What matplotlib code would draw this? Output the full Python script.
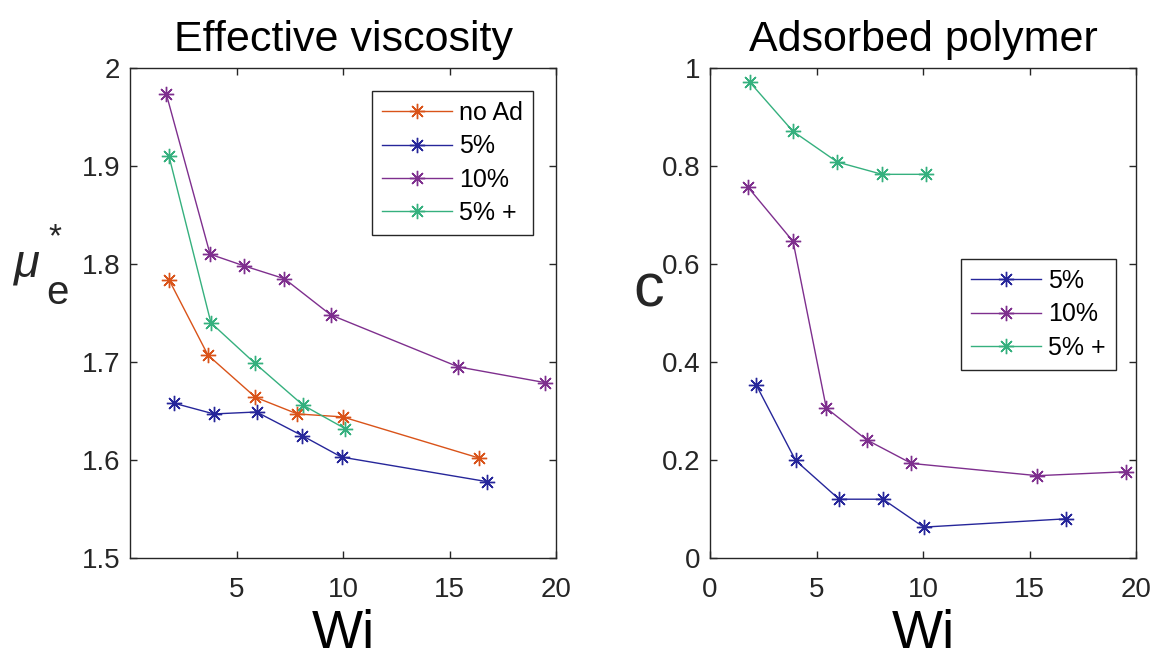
import numpy as np
import matplotlib
matplotlib.use("Agg")
import matplotlib.pyplot as plt

plt.rcParams['font.family'] = ['Liberation Sans', 'DejaVu Sans']
plt.rcParams['mathtext.fontset'] = 'custom'
plt.rcParams['mathtext.rm'] = 'Liberation Sans'
plt.rcParams['mathtext.it'] = 'Liberation Sans:italic'

# effective viscosity (left)
wi_noad = [1.83, 3.66, 5.89, 7.86, 9.98, 16.39]
mu_noad = [1.784, 1.707, 1.664, 1.647, 1.644, 1.602]
wi_5 = [2.06, 3.94, 5.94, 8.07, 9.93, 16.74]
mu_5 = [1.658, 1.647, 1.649, 1.625, 1.603, 1.578]
wi_10 = [1.71, 3.76, 5.37, 7.25, 9.43, 15.42, 19.48]
mu_10 = [1.973, 1.810, 1.798, 1.785, 1.748, 1.695, 1.679]
wi_5p = [1.83, 3.80, 5.85, 8.12, 10.1]
mu_5p = [1.910, 1.740, 1.699, 1.656, 1.632]

# adsorbed polymer (right)
wi_c5 = [2.16, 4.02, 6.06, 8.12, 10.03, 16.72]
c_5 = [0.354, 0.199, 0.120, 0.120, 0.063, 0.080]
wi_c10 = [1.78, 3.90, 5.46, 7.36, 9.46, 15.37, 19.52]
c_10 = [0.757, 0.646, 0.306, 0.241, 0.193, 0.168, 0.176]
wi_c5p = [1.87, 3.89, 5.98, 8.08, 10.12]
c_5p = [0.971, 0.871, 0.808, 0.783, 0.783]

orange = '#D95319'
blue = '#26269A'
purple = '#7E2F8E'
green = '#35B07E'
axcol = '#262626'

mk = dict(marker=(8, 2, 0), markersize=11, linewidth=1.0, markeredgewidth=1.0)

fig = plt.figure(figsize=(11.56, 6.62), dpi=100)
ax1 = fig.add_axes([130/1156, 104/662, 426/1156, 490/662])
ax2 = fig.add_axes([710/1156, 104/662, 426/1156, 490/662])

ax1.plot(wi_noad, mu_noad, color=orange, label='no Ad', **mk)
ax1.plot(wi_5, mu_5, color=blue, label='5%', **mk)
ax1.plot(wi_10, mu_10, color=purple, label='10%', **mk)
ax1.plot(wi_5p, mu_5p, color=green, label='5% +', **mk)
ax1.set_xlim(0, 20)
ax1.set_ylim(1.5, 2)
ax1.set_xticks([5, 10, 15, 20])
ax1.set_yticks([1.5, 1.6, 1.7, 1.8, 1.9, 2.0])
ax1.set_yticklabels(['1.5', '1.6', '1.7', '1.8', '1.9', '2'])
ax1.set_title('Effective viscosity', fontsize=31, pad=12)
ax1.set_xlabel('Wi', fontsize=39, labelpad=4)
# mu_e^* label built from pieces so the e is as big as in the original
ax1.text(-0.243, 0.598, r'$\mu$', transform=ax1.transAxes, fontsize=34,
         ha='center', va='center', color=axcol)
ax1.text(-0.170, 0.540, 'e', transform=ax1.transAxes, fontsize=29,
         ha='center', va='center', color=axcol)
ax1.text(-0.176, 0.654, '*', transform=ax1.transAxes, fontsize=24,
         ha='center', va='center', color=axcol)

ax2.plot(wi_c5, c_5, color=blue, label='5%', **mk)
ax2.plot(wi_c10, c_10, color=purple, label='10%', **mk)
ax2.plot(wi_c5p, c_5p, color=green, label='5% +', **mk)
ax2.set_xlim(0, 20)
ax2.set_ylim(0, 1)
ax2.set_xticks([0, 5, 10, 15, 20])
ax2.set_yticks([0, 0.2, 0.4, 0.6, 0.8, 1.0])
ax2.set_yticklabels(['0', '0.2', '0.4', '0.6', '0.8', '1'])
ax2.set_title('Adsorbed polymer', fontsize=31, pad=12)
ax2.set_xlabel('Wi', fontsize=39, labelpad=4)
ax2.set_ylabel('c', fontsize=44, rotation=0, va='center', ha='center', color=axcol)
ax2.yaxis.set_label_coords(-0.145, 0.545)

for ax in (ax1, ax2):
    for s in ax.spines.values():
        s.set_color(axcol)
        s.set_linewidth(1.0)
    ax.tick_params(direction='in', top=True, right=True, length=5, width=1.0,
                   color=axcol, labelcolor=axcol, labelsize=20)
    ax.tick_params(axis='x', pad=14)
    ax.tick_params(axis='y', pad=7)

leg1 = ax1.legend(loc='upper right', bbox_to_anchor=(0.946, 0.953), borderaxespad=0,
                  fontsize=18, numpoints=1, handlelength=2.8, fancybox=False,
                  edgecolor=axcol, framealpha=1, labelspacing=0.37, handletextpad=0.3,
                  borderpad=0.4)
leg2 = ax2.legend(loc='upper right', bbox_to_anchor=(0.953, 0.610), borderaxespad=0,
                  fontsize=18, numpoints=1, handlelength=2.8, fancybox=False,
                  edgecolor=axcol, framealpha=1, labelspacing=0.37, handletextpad=0.3,
                  borderpad=0.4)
for leg in (leg1, leg2):
    leg.get_frame().set_linewidth(1.0)

fig.savefig('out.png', dpi=100)
